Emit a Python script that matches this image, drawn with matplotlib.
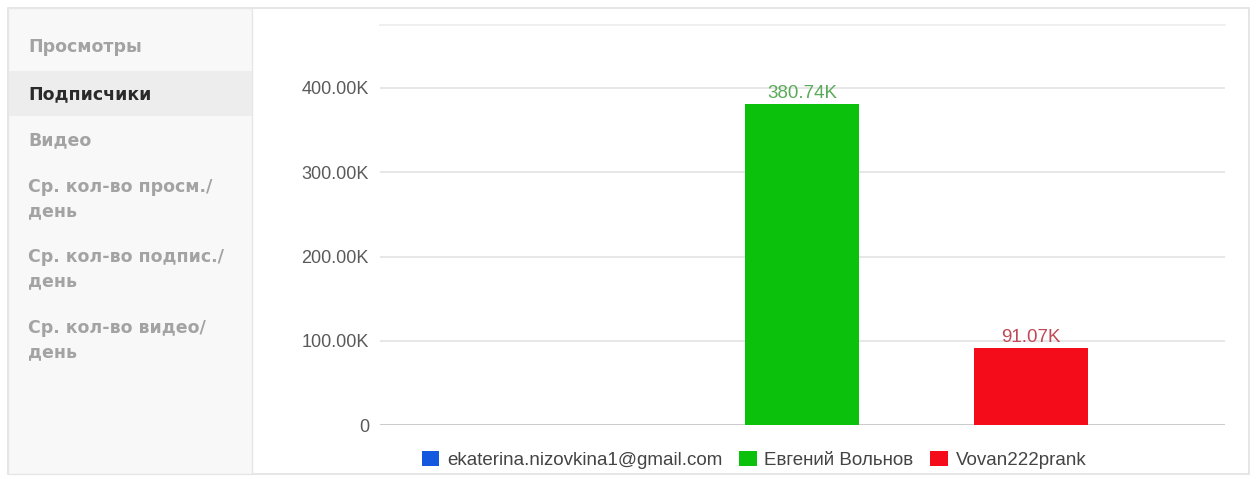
import matplotlib
matplotlib.use("Agg")
import matplotlib.pyplot as plt
from matplotlib.patches import Rectangle
from matplotlib.ticker import FuncFormatter

series = ["ekaterina.nizovkina1@gmail.com", "Евгений Вольнов", "Vovan222prank"]
values = [0, 380740, 91070]
value_labels = ["", "380.74K", "91.07K"]
colors = ["#1558e0", "#0cc10c", "#f50c1a"]
label_colors = ["#5577cc", "#5aaa5a", "#c04a55"]
yticks = [0, 100000, 200000, 300000, 400000]
ytick_labels = ["0", "100.00K", "200.00K", "300.00K", "400.00K"]
menu_items = ["Просмотры", "Подписчики", "Видео", "Ср. кол-во просм./\nдень",
              "Ср. кол-во подпис./\nдень", "Ср. кол-во видео/\nдень"]
active_item = 1

W, H = 1259, 479
fig = plt.figure(figsize=(W / 100, H / 100), dpi=100)
fig.patch.set_facecolor("white")
plt.rcParams['font.family'] = ['Liberation Sans', 'DejaVu Sans']

def fx(px):
    return px / W

def fy(py):
    return 1 - py / H

# outer card
fig.patches.append(Rectangle((fx(8), fy(474)), fx(1249 - 8), (470 - 4) / H,
                             transform=fig.transFigure, facecolor="white",
                             edgecolor="#e2e2e2", lw=1.2, zorder=-3))
# sidebar
fig.patches.append(Rectangle((fx(8), fy(474)), fx(252 - 8), (470 - 4) / H,
                             transform=fig.transFigure, facecolor="#f8f8f8",
                             edgecolor="#e6e6e6", lw=1.0, zorder=-2))
fig.patches.append(Rectangle((fx(9), fy(116)), fx(243), (116 - 71) / H,
                             transform=fig.transFigure, facecolor="#ededed",
                             edgecolor="none", zorder=-1))

menu_y = [47, 94, 140, 199, 269, 340]
for i, (txt, y) in enumerate(zip(menu_items, menu_y)):
    fig.text(fx(28), fy(y), txt, ha="left", va="center", fontsize=12.5,
             fontweight="bold", color="#2a2a2a" if i == active_item else "#a3a3a3",
             family=["DejaVu Sans"], linespacing=1.4)

# chart axes
ax = fig.add_axes([fx(380), fy(425), fx(1225 - 380), (425 - 25) / H])
ax.set_zorder(2)
ax.set_facecolor("none")
ymax = 400000 * (425 - 25) / (425 - 88)
ax.set_ylim(0, ymax)
unit = 229
ax.set_xlim(-(573 - 380) / unit, 2 + (1225 - 1031) / unit)
x = list(range(len(series)))
bars = ax.bar(x, values, width=114 / unit, color=colors, zorder=3)
for xi, v, lab, lc in zip(x, values, value_labels, label_colors):
    if lab:
        ax.text(xi, v + ymax * 0.006, lab, ha="center", va="bottom",
                fontsize=13.5, color=lc, zorder=4)

ax.set_yticks(yticks)
ax.yaxis.set_major_formatter(FuncFormatter(
    lambda v, p: ytick_labels[yticks.index(int(round(v)))] if int(round(v)) in yticks else ""))
ax.tick_params(axis="y", length=0, pad=8, labelsize=13, labelcolor="#5a5a5a")
ax.tick_params(axis="x", length=0, labelbottom=False)
ax.grid(axis="y", color="#e3e3e3", lw=1.2, zorder=0)
for s in ["left", "right", "bottom"]:
    ax.spines[s].set_visible(False)
ax.spines["top"].set_color("#ececec")
ax.spines["top"].set_linewidth(1.2)
ax.axhline(0, color="#cccccc", lw=1.4, zorder=2)

handles = [Rectangle((0, 0), 1, 1, facecolor=c) for c in colors]
leg = fig.legend(handles, series, loc="center", bbox_to_anchor=(fx(754), fy(460)),
                 ncol=3, frameon=False, fontsize=13.5, handlelength=0.95,
                 handleheight=0.8, handletextpad=0.4, columnspacing=0.9,
                 labelcolor="#444444")

fig.savefig("out.png", dpi=100, facecolor="white")
